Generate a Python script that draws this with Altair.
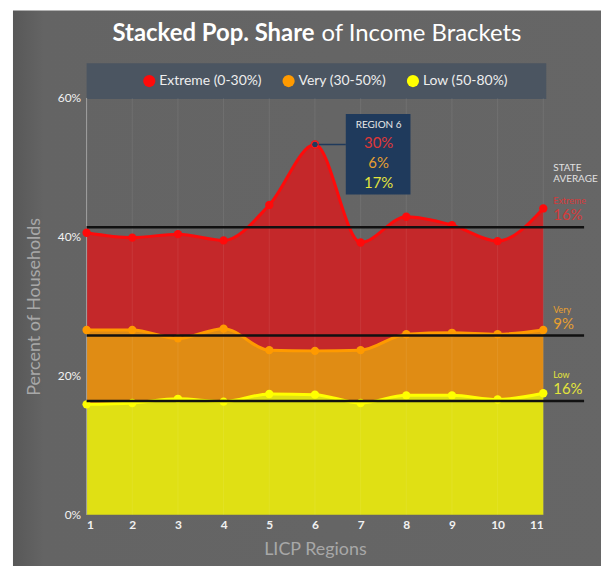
import altair as alt
import pandas as pd

# ---------------- data ----------------
regions = list(range(1, 12))
extreme_share = [14.0, 13.3, 15.0, 12.7, 20.9, 29.7, 15.5, 16.9, 15.5, 13.4, 17.5]
very_share = [10.7, 10.5, 8.7, 10.5, 6.3, 6.3, 7.6, 8.8, 9.0, 9.4, 9.1]
low_share = [15.9, 16.1, 16.7, 16.3, 17.4, 17.3, 16.1, 17.2, 17.2, 16.6, 17.5]
brackets = ["Extreme (0-30%)", "Very (30-50%)", "Low (50-80%)"]
short_names = ["Extreme", "Very", "Low"]
state_avg = [15.6, 9.4, 16.4]          # extreme, very, low
y_ticks = [0, 20, 40, 60]
highlight_region = 6

fill_colors = ["#c4282a", "#e08c14", "#e0e014"]
line_colors = ["#ff0a0a", "#ff9a00", "#ffff00"]
label_colors = ["#d43a3a", "#e8a030", "#e4e43c"]

FONT = "Lato"

series = [extreme_share, very_share, low_share]
stack_order = [2, 1, 0]
rows = []
for bi, b in enumerate(brackets):
    for r, v in zip(regions, series[bi]):
        rows.append({"region": r, "bracket": b, "share": v, "order": stack_order[bi]})
df = pd.DataFrame(rows)

# cumulative state averages (low at bottom)
cum_low = state_avg[2]
cum_very = cum_low + state_avg[1]
cum_ext = cum_very + state_avg[0]
avg_cum = [cum_ext, cum_very, cum_low]

hi = regions.index(highlight_region)
peak_top = extreme_share[hi] + very_share[hi] + low_share[hi]

W, H = 459, 419
one = alt.Data(values=[{}])

xscale = alt.Scale(domain=[1, 11], nice=False, zero=False)
yscale = alt.Scale(domain=[0, 60], nice=False)
xaxis = alt.Axis(values=regions, format="d", grid=False, ticks=False, domain=False,
                 labelColor="#f2f2f2", labelFontSize=12, labelFont=FONT,
                 labelFontWeight="bold", labelPadding=5,
                 titleColor="#a8a8a8", titleFontSize=18, titleFont=FONT,
                 titleFontWeight="normal", titlePadding=10, zindex=1)
yaxis = alt.Axis(values=y_ticks, labelExpr="datum.value + '%'", grid=False, ticks=False,
                 domain=False, labelColor="#f2f2f2", labelFontSize=12, labelFont=FONT,
                 labelPadding=6, titleColor="#a8a8a8", titleFontSize=18, titleFont=FONT,
                 titleFontWeight="normal", titlePadding=14, zindex=1)


def X(field="region"):
    return alt.X(f"{field}:Q", scale=xscale, axis=xaxis, title="LICP Regions")


def Y(field):
    return alt.Y(f"{field}:Q", scale=yscale, axis=yaxis, title="Percent of Households")


base = alt.Chart(df).transform_stack(
    stack="share", groupby=["region"], as_=["y0", "y1"],
    sort=[alt.SortField("order", order="ascending")]
)

# background
grad = alt.Gradient(gradient="linear", x1=0, x2=1, y1=0, y2=0,
                    stops=[alt.GradientStop(color="#585858", offset=0),
                           alt.GradientStop(color="#646464", offset=0.05),
                           alt.GradientStop(color="#666666", offset=1)])
bg = alt.Chart(one).mark_rect(color=grad).encode(
    x=alt.value(-74), x2=alt.value(540), y=alt.value(-88), y2=alt.value(480))

legend_box = alt.Chart(one).mark_rect(color="#4b5561").encode(
    x=alt.value(0), x2=alt.value(462), y=alt.value(-35), y2=alt.value(1))

title_bold = alt.Chart(one).mark_text(
    text="Stacked Pop. Share", font=FONT, fontSize=24, fontWeight="bold",
    color="white", align="right", baseline="middle").encode(
    x=alt.value(229), y=alt.value(-64))
title_reg = alt.Chart(one).mark_text(
    text="of Income Brackets", font=FONT, fontSize=24, fontWeight="normal",
    color="white", align="left", baseline="middle").encode(
    x=alt.value(236), y=alt.value(-64))

left_edge = alt.Chart(one).mark_rule(color="#a0a0a0", strokeWidth=1).encode(
    x=alt.value(0), y=alt.value(0), y2=alt.value(H))

areas = [
    base.transform_filter(alt.datum.bracket == b).mark_area(
        interpolate="monotone", opacity=1, color=c).encode(x=X(), y=Y("y1"), y2="y0")
    for b, c in zip(brackets, fill_colors)
]

grid = alt.Chart(pd.DataFrame({"region": regions})).mark_rule(
    color="white", opacity=0.08, strokeWidth=1).encode(
    x=X(), y=alt.value(0), y2=alt.value(H))

lines = [
    base.transform_filter(alt.datum.bracket == b).mark_line(
        interpolate="monotone", strokeWidth=3, color=c).encode(x=X(), y=Y("y1"))
    for b, c in zip(brackets, line_colors)
]

points = base.mark_circle(size=70, opacity=1).encode(
    x=X(), y=Y("y1"),
    color=alt.Color("bracket:N", scale=alt.Scale(domain=brackets, range=line_colors),
                    legend=alt.Legend(title=None, orient="none", direction="horizontal",
                                      legendX=56, legendY=-24, symbolType="circle",
                                      symbolSize=150, symbolStrokeWidth=0,
                                      labelColor="#eeeeee", labelFont=FONT, labelFontSize=14,
                                      labelOffset=3, columnPadding=19)))

avg_df = pd.DataFrame({"bracket": short_names, "cum": avg_cum})
avg_rules = alt.Chart(avg_df).mark_rule(color="#111111", strokeWidth=2.5).encode(
    x=alt.value(0), x2=alt.value(500), y=Y("cum"))

# tooltip annotation for the highlighted region
hl_point = alt.Chart(one).mark_circle(size=45, color="#1f3a5c", opacity=1,
                                      stroke="#ff2020", strokeWidth=1).encode(
    x=alt.datum(highlight_region, scale=xscale), y=alt.datum(peak_top, scale=yscale))
connector = alt.Chart(one).mark_rule(color="#1f3a5c", strokeWidth=1.5, x2Offset=31).encode(
    x=alt.datum(highlight_region), x2=alt.datum(highlight_region),
    y=alt.datum(peak_top))
tip_box = alt.Chart(one).mark_rect(color="#1f3a5c", xOffset=31, x2Offset=96).encode(
    x=alt.datum(highlight_region), x2=alt.datum(highlight_region),
    y=alt.value(16), y2=alt.value(97))
tip_texts = [alt.Chart(one).mark_text(
    text=f"REGION {highlight_region}", font=FONT, fontSize=10, color="#e8e8e8",
    align="center", baseline="middle", dx=64).encode(
    x=alt.datum(highlight_region), y=alt.value(27))]
tip_vals = [extreme_share[hi], very_share[hi], low_share[hi]]
tip_cols = ["#e03838", "#e8a030", "#e4e43c"]
for k, (v, c) in enumerate(zip(tip_vals, tip_cols)):
    tip_texts.append(alt.Chart(one).mark_text(
        text=f"{round(v)}%", font=FONT, fontSize=15, color=c,
        align="center", baseline="middle", dx=64).encode(
        x=alt.datum(highlight_region), y=alt.value(45 + 20 * k)))

# right-hand state average labels
side = [alt.Chart(one).mark_text(
    text=["STATE", "AVERAGE"], font=FONT, fontSize=10, color="#e0e0e0",
    align="left", baseline="middle", lineHeight=11).encode(
    x=alt.value(469), y=alt.value(70))]
for name, cum, val, col in zip(short_names, avg_cum, state_avg, label_colors):
    side.append(alt.Chart(one).mark_text(
        text=name, font=FONT, fontSize=9, color=col, align="left",
        baseline="middle", dy=-26).encode(x=alt.value(469), y=alt.datum(cum)))
    side.append(alt.Chart(one).mark_text(
        text=f"{round(val)}%", font=FONT, fontSize=15, color=col, align="left",
        baseline="middle", dy=-12).encode(x=alt.value(469), y=alt.datum(cum)))

chart = alt.layer(
    bg, legend_box, title_bold, title_reg, *areas, grid, left_edge, *lines, points,
    avg_rules, connector, hl_point, tip_box, *tip_texts, *side
).properties(
    width=W, height=H,
    padding={"left": 79, "top": 89, "right": 58, "bottom": 50},
    autosize=alt.AutoSizeParams(type="none"),
    background="white",
).configure_view(stroke=None)

chart.save("out.html", embed_options={"renderer": "svg", "actions": False})
